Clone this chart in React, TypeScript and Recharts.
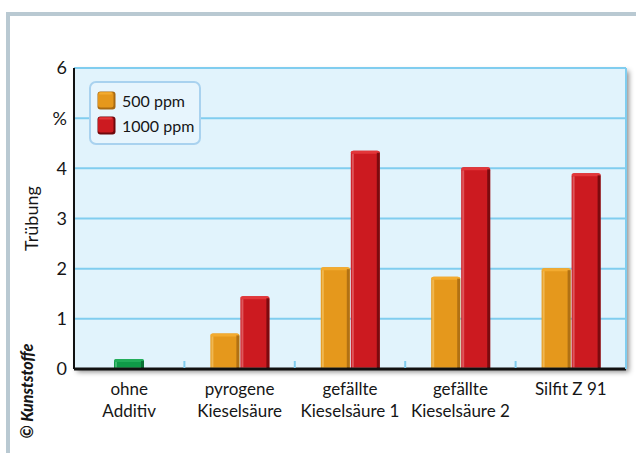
import React from "react";
import {
  BarChart,
  Bar,
  XAxis,
  YAxis,
  CartesianGrid,
  Legend,
} from "recharts";

const categories = [
  "ohne\nAdditiv",
  "pyrogene\nKieselsäure",
  "gefällte\nKieselsäure 1",
  "gefällte\nKieselsäure 2",
  "Silfit Z 91",
];
const ppm500 = [null, 0.71, 2.03, 1.84, 2.01];
const ppm1000 = [null, 1.45, 4.35, 4.02, 3.9];
const ohneAdditiv = [0.2, null, null, null, null];
const yTicks = [0, 1, 2, 3, 4, 5, 6];
const yTickLabels = ["0", "1", "2", "3", "4", "%", "6"];

const data = categories.map((name, i) => ({
  name,
  a: ppm500[i],
  b: ppm1000[i],
  g: ohneAdditiv[i],
}));

const FONT = "Lato, 'Open Sans', sans-serif";
const TEXT = "#161616";

const ORANGE = { main: "#e5981c", light: "#f3bf5e", dark: "#a86a12", top: "#f3ab30" };
const RED = { main: "#cc1a20", light: "#e2656a", dark: "#6e080c", top: "#e2373a" };
const GREEN = { main: "#0f9a48", light: "#4cc07a", dark: "#086b31", top: "#22ad5a" };

function Bevel(props: any) {
  const { x, y, width, height, pal } = props;
  if (!height || height <= 0) return null;
  const r = Math.min(3, height / 2);
  const d = `M${x},${y + height} L${x},${y + r} Q${x},${y} ${x + r},${y} L${x + width - r},${y} Q${x + width},${y} ${x + width},${y + r} L${x + width},${y + height} Z`;
  return (
    <g>
      <path d={d} fill={pal.main} />
      <rect x={x} y={y} width={width} height={Math.min(3, height)} rx={2} fill={pal.top} />
      <rect x={x + 1} y={y + 3} width={2} height={Math.max(0, height - 4)} fill={pal.light} opacity={0.8} />
      <rect x={x + width - 3} y={y + 2} width={3} height={Math.max(0, height - 2)} fill={pal.dark} opacity={0.85} />
      <rect x={x + 1} y={y + height - 2} width={width - 4} height={1} fill={pal.light} opacity={0.6} />
    </g>
  );
}

function CatTick(props: any) {
  const { x, y, payload, index } = props;
  const lines = String(payload.value).split("\n");
  const off = payload.offset || 0;
  return (
    <g>
      {index > 0 && (
        <line x1={x - off} x2={x - off} y1={y - 8} y2={y - 1} stroke="#7fcdef" strokeWidth={2} />
      )}
      {lines.map((l, i) => (
        <text
          key={i}
          x={x}
          y={y + 26 + i * 22}
          textAnchor="middle"
          fontFamily={FONT}
          fontSize={17}
          fill={TEXT}
        >
          {l}
        </text>
      ))}
    </g>
  );
}

function Swatch({ pal }: { pal: any }) {
  return (
    <svg width={19} height={19} style={{ display: "block" }}>
      <rect x={0.5} y={0.5} width={18} height={18} rx={3} fill={pal.dark} />
      <rect x={1} y={1} width={15.5} height={15.5} rx={2.5} fill={pal.main} />
      <rect x={2} y={1.5} width={13} height={2} rx={1} fill={pal.top} />
    </svg>
  );
}

function LegendBox() {
  const items = [
    { label: "500 ppm", pal: ORANGE },
    { label: "1000 ppm", pal: RED },
  ];
  return (
    <div
      style={{
        border: "2px solid #a9d2ef",
        borderRadius: 7,
        background: "#e7f5fd",
        padding: "5px 5px 5px 6px",
        fontFamily: FONT,
        fontSize: 16,
        color: TEXT,
      }}
    >
      {items.map((it) => (
        <div key={it.label} style={{ display: "flex", alignItems: "center", height: 25 }}>
          <Swatch pal={it.pal} />
          <span style={{ marginLeft: 6 }}>{it.label}</span>
        </div>
      ))}
    </div>
  );
}

export default function App() {
  return (
    <div
      style={{
        position: "absolute",
        left: 0,
        top: 0,
        width: 636,
        height: 453,
        background: "#ffffff",
        overflow: "hidden",
      }}
    >
      <div
        style={{
          position: "absolute",
          left: 6,
          top: 12,
          right: 0,
          bottom: 0,
          borderTop: "4px solid #b9c9d2",
          borderLeft: "4px solid #b9c9d2",
        }}
      />
      <div
        style={{
          position: "absolute",
          left: 74,
          top: 68,
          width: 552,
          height: 301,
          boxShadow: "3px 3px 5px rgba(0,0,0,0.45)",
        }}
      />
      <div
        style={{
          position: "absolute",
          left: 26,
          top: 391,
          transform: "translate(-50%, -50%) rotate(-90deg)",
          whiteSpace: "nowrap",
          fontFamily: FONT,
          fontWeight: 900,
          fontStyle: "italic",
          fontSize: 16,
          color: TEXT,
        }}
      >
        © Kunststoffe
      </div>
      <div style={{ position: "absolute", left: 0, top: 0 }}>
        <BarChart
          width={636}
          height={453}
          data={data}
          margin={{ top: 68, right: 8, left: 0, bottom: 0 }}
          barGap={1}
        >
          <CartesianGrid
            horizontal
            vertical={false}
            yAxisId="left"
            xAxisId="main"
            fill="#e1f3fc"
            fillOpacity={1}
            stroke="#80cdef"
            strokeWidth={2}
          />
          <XAxis
            xAxisId="main"
            dataKey="name"
            height={84}
            interval={0}
            tickSize={0}
            tickMargin={0}
            tickLine={false}
            axisLine={{ stroke: "#111", strokeWidth: 3 }}
            tick={<CatTick />}
          />
          <XAxis xAxisId="solo" dataKey="name" hide />
          <YAxis
            yAxisId="left"
            width={74}
            domain={[0, 6]}
            ticks={yTicks}
            interval={0}
            tickLine={false}
            tickSize={0}
            tickMargin={7}
            tickFormatter={(v: number) => yTickLabels[yTicks.indexOf(v)]}
            tick={{ fontSize: 18, fill: TEXT, fontFamily: FONT }}
            axisLine={{ stroke: "#111", strokeWidth: 2 }}
            label={{
              value: "Trübung",
              angle: -90,
              position: "insideLeft",
              offset: 32,
              fontSize: 18,
              fill: TEXT,
              fontFamily: FONT,
              style: { textAnchor: "middle" },
            }}
          />
          <YAxis
            yAxisId="right"
            orientation="right"
            width={2}
            domain={[0, 6]}
            tick={false}
            tickLine={false}
            axisLine={{ stroke: "#80cdef", strokeWidth: 2 }}
          />
          <Legend
            layout="vertical"
            align="center"
            verticalAlign="middle"
            wrapperStyle={{ left: 89, top: 81, width: "auto" }}
            content={() => <LegendBox />}
          />
          <Bar
            xAxisId="main"
            yAxisId="left"
            dataKey="a"
            name="500 ppm"
            fill={ORANGE.main}
            barSize={29}
            isAnimationActive={false}
            shape={(p: any) => <Bevel {...p} pal={ORANGE} />}
          />
          <Bar
            xAxisId="main"
            yAxisId="left"
            dataKey="b"
            name="1000 ppm"
            fill={RED.main}
            barSize={29}
            isAnimationActive={false}
            shape={(p: any) => <Bevel {...p} pal={RED} />}
          />
          <Bar
            xAxisId="solo"
            yAxisId="left"
            dataKey="g"
            name="ohne Additiv"
            fill={GREEN.main}
            barSize={30}
            legendType="none"
            isAnimationActive={false}
            shape={(p: any) => <Bevel {...p} pal={GREEN} />}
          />
        </BarChart>
      </div>
    </div>
  );
}
